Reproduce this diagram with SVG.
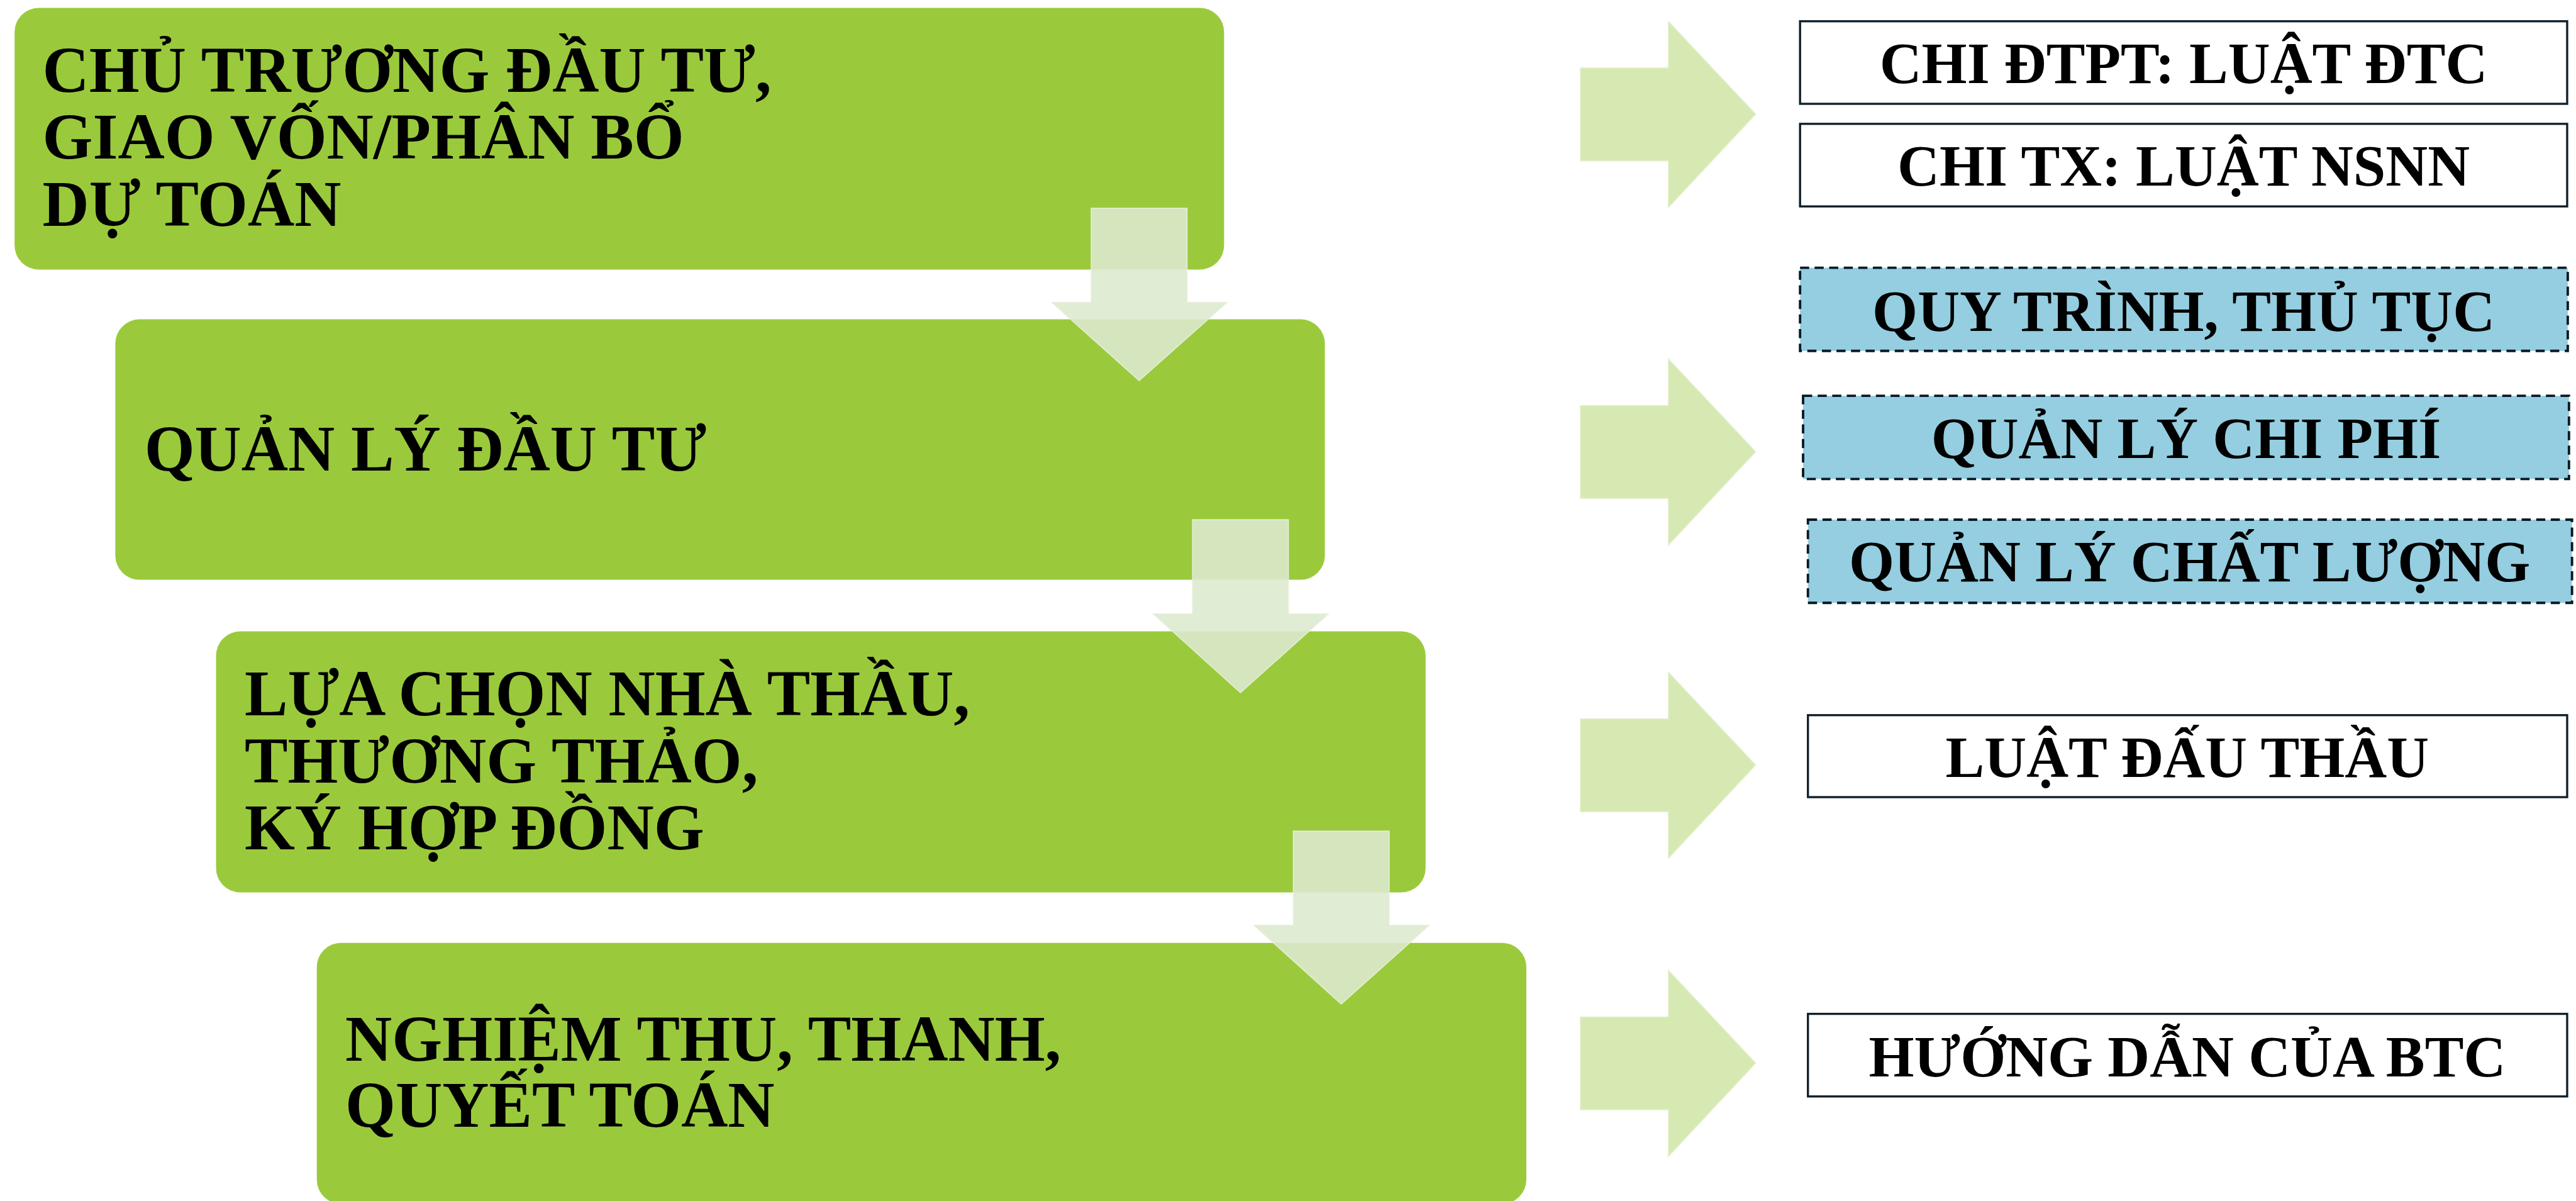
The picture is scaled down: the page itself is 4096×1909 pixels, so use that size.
<svg xmlns="http://www.w3.org/2000/svg" width="4096" height="1909" viewBox="0 0 4096 1909">
<style>
.step{fill:#9ACA3C}
.lt{font-family:"Liberation Serif","Times New Roman",serif;font-weight:bold;font-size:106.5px;fill:#000}
.rt{font-family:"Liberation Serif","Times New Roman",serif;font-weight:bold;font-size:96px;fill:#000;text-anchor:middle}
.sol{fill:#FFFFFF;stroke:#0F1F2A;stroke-width:3.5}
.dash{fill:#94CEE0;stroke:#0A1A24;stroke-width:4;stroke-dasharray:15 9}
.darr{fill:#DCEACF;fill-opacity:0.89;stroke:#E6F0DA;stroke-width:1.5}
.rarr{fill:#D7E9B2;stroke:#E4F1D0;stroke-width:1.5}
</style>
<rect width="4096" height="1909" fill="#FFFFFF"/>
<g transform="scale(0.965)">
<g id="step1">
<rect class="step" x="24" y="13" width="1993" height="431" rx="40"/>
<text class="lt"><tspan x="70" y="151">CHỦ TRƯƠNG ĐẦU TƯ,</tspan><tspan x="70" y="261">GIAO VỐN/PHÂN BỔ</tspan><tspan x="70" y="372">DỰ TOÁN</tspan></text>
</g>
<g id="step2">
<rect class="step" x="190" y="526" width="1993" height="429" rx="40"/>
<text class="lt" x="238" y="775">QUẢN LÝ ĐẦU TƯ</text>
</g>
<g id="step3">
<rect class="step" x="356" y="1040" width="1993" height="430" rx="40"/>
<text class="lt"><tspan x="403" y="1178">LỰA CHỌN NHÀ THẦU,</tspan><tspan x="403" y="1289">THƯƠNG THẢO,</tspan><tspan x="403" y="1399">KÝ HỢP ĐỒNG</tspan></text>
</g>
<g id="step4">
<rect class="step" x="522" y="1553" width="1993" height="430" rx="40"/>
<text class="lt"><tspan x="569" y="1747">NGHIỆM THU, THANH,</tspan><tspan x="569" y="1856">QUYẾT TOÁN</tspan></text>
</g>
<g id="law1">
<rect class="sol" x="2966" y="35" width="1264" height="136"/>
<text class="rt" x="3598" y="137">CHI ĐTPT: LUẬT ĐTC</text>
</g>
<g id="law2">
<rect class="sol" x="2966" y="204" width="1264" height="136"/>
<text class="rt" x="3598" y="306">CHI TX: LUẬT NSNN</text>
</g>
<g id="mgmt1">
<rect class="dash" x="2966" y="441" width="1265" height="137"/>
<text class="rt" x="3598" y="545">QUY TRÌNH, THỦ TỤC</text>
</g>
<g id="mgmt2">
<rect class="dash" x="2971" y="652" width="1262" height="137"/>
<text class="rt" x="3602" y="754">QUẢN LÝ CHI PHÍ</text>
</g>
<g id="mgmt3">
<rect class="dash" x="2979" y="856" width="1259" height="137"/>
<text class="rt" x="3608" y="958">QUẢN LÝ CHẤT LƯỢNG</text>
</g>
<g id="law3">
<rect class="sol" x="2979" y="1178" width="1251" height="135"/>
<text class="rt" x="3604" y="1280">LUẬT ĐẤU THẦU</text>
</g>
<g id="guide">
<rect class="sol" x="2979" y="1670" width="1251" height="136"/>
<text class="rt" x="3604" y="1773">HƯỚNG DẪN CỦA BTC</text>
</g>
<g id="connectors">
<polygon class="darr" points="1798,343 1956,343 1956,498 2022,498 1877,627 1733,498 1798,498"/>
<polygon class="darr" points="1965,856 2123,856 2123,1011 2189,1011 2044,1141 1900,1011 1965,1011"/>
<polygon class="darr" points="2131,1369 2289,1369 2289,1524 2355,1524 2210,1654 2066,1524 2131,1524"/>
<polygon class="rarr" points="2604,112 2749,112 2749,35 2893,188 2749,342 2749,265 2604,265"/>
<polygon class="rarr" points="2604,668 2749,668 2749,591 2893,744 2749,898 2749,821 2604,821"/>
<polygon class="rarr" points="2604,1184 2749,1184 2749,1107 2893,1260 2749,1414 2749,1337 2604,1337"/>
<polygon class="rarr" points="2604,1675 2749,1675 2749,1598 2893,1751 2749,1905 2749,1828 2604,1828"/>
</g>
</g>
</svg>
